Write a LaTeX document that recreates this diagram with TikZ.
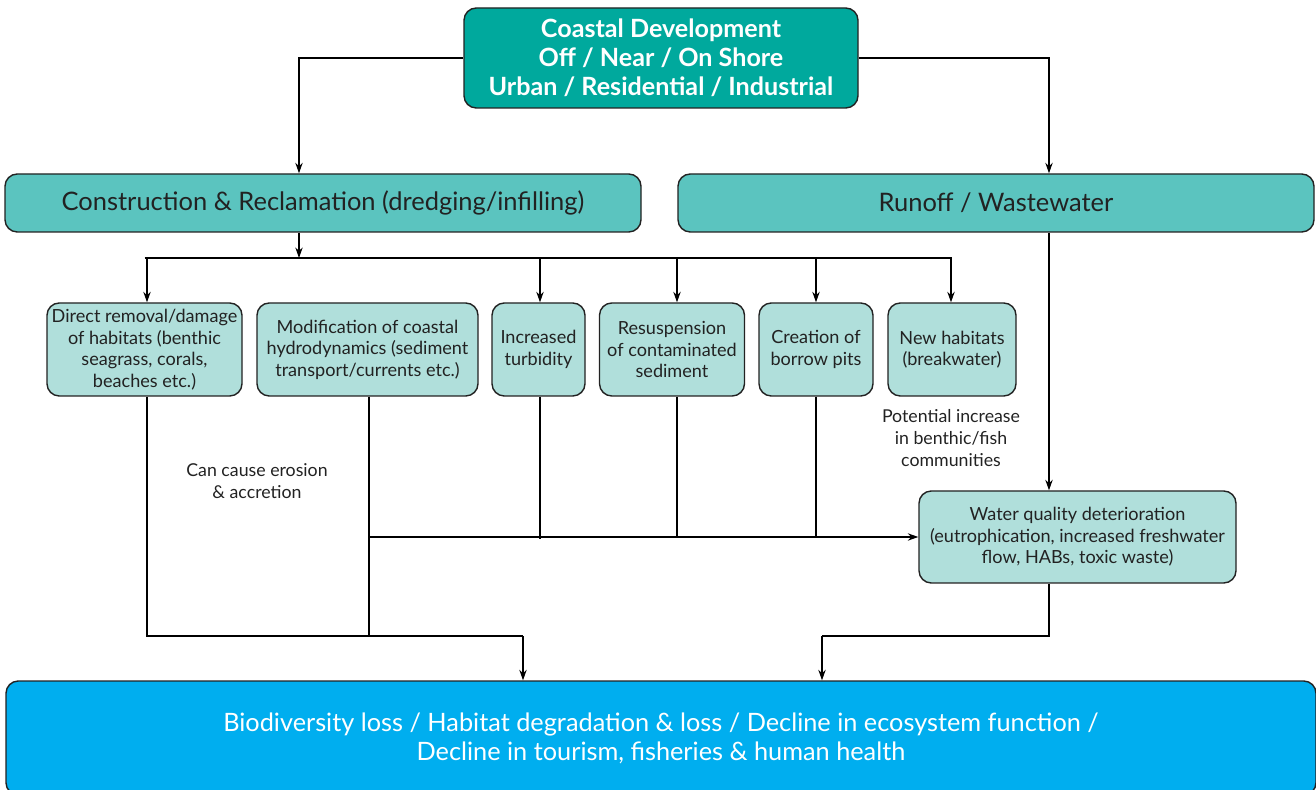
\documentclass[tikz,border=0pt]{standalone}
\usepackage{fontspec}
\setmainfont{Lato}
\usetikzlibrary{arrows.meta}
\definecolor{topteal}{HTML}{00A99D}
\definecolor{midteal}{HTML}{5BC4BF}
\definecolor{lightteal}{HTML}{B0DFDB}
\definecolor{seablue}{HTML}{00AEEF}
\definecolor{boxline}{HTML}{222222}
\begin{document}
\begin{tikzpicture}[x=0.02cm,y=-0.02cm,
    every node/.style={inner sep=0pt,align=center},
    topbox/.style={draw=boxline,line width=0.8pt,rounded corners=7pt,fill=topteal,
      text=white,font=\fontsize{14.3}{16.5}\selectfont\bfseries,minimum height=100*0.02cm},
    midbox/.style={draw=boxline,line width=0.8pt,rounded corners=7pt,fill=midteal,
      text=boxline,font=\fontsize{14.5}{16}\selectfont,minimum height=58*0.02cm,minimum width=636*0.02cm},
    smallbox/.style={draw=boxline,line width=0.8pt,rounded corners=7pt,fill=lightteal,
      text=boxline,font=\fontsize{10.3}{12.3}\selectfont,minimum height=93*0.02cm},
    note/.style={text=boxline,font=\fontsize{10.1}{12.3}\selectfont},
    link/.style={line width=0.65pt,draw=black},
    tip/.style={link,-{Stealth[length=6pt,width=4.2pt]}}]
  \useasboundingbox (0,0) rectangle (1316,790);
  % boxes
  \node[topbox,minimum width=394*0.02cm] (dev) at (661,58)
    {Coastal Development\\Off / Near / On Shore\\Urban / Residential / Industrial};
  \node[midbox] (constr) at (323,203) {Construction \& Reclamation (dredging/infilling)};
  \node[midbox] (runoff) at (996,203) {Runoff / Wastewater};
  \node[smallbox,minimum width=195*0.02cm] (direct) at (144.5,349.5)
    {Direct removal/damage\\of habitats (benthic\\seagrass, corals,\\beaches etc.)};
  \node[smallbox,minimum width=221*0.02cm] (modif) at (367.5,349.5)
    {Modification of coastal\\hydrodynamics (sediment\\transport/currents etc.)};
  \node[smallbox,minimum width=93*0.02cm] (turb) at (538.5,349.5) {Increased\\turbidity};
  \node[smallbox,minimum width=145*0.02cm] (resusp) at (672,349.5)
    {Resuspension\\of contaminated\\sediment};
  \node[smallbox,minimum width=114*0.02cm] (pits) at (816,349.5) {Creation of\\borrow pits};
  \node[smallbox,minimum width=128*0.02cm] (newhab) at (952,349.5) {New habitats\\(breakwater)};
  \node[smallbox,minimum width=317*0.02cm,minimum height=92*0.02cm] (water) at (1077.5,537)
    {Water quality deterioration\\(eutrophication, increased freshwater\\flow, HABs, toxic waste)};
  \node[draw=boxline,line width=0.8pt,rounded corners=7pt,fill=seablue,text=white,
    font=\fontsize{14.4}{16.5}\selectfont,minimum width=1310*0.02cm,minimum height=114*0.02cm]
    (loss) at (661,738)
    {Biodiversity loss / Habitat degradation \& loss / Decline in ecosystem function /\\
     Decline in tourism, fisheries \& human health};
  % notes
  \node[note] (erosion) at (257,481) {Can cause erosion\\\& accretion};
  \node[note] (gain) at (951,438) {Potential increase\\in benthic/fish\\communities};
  % junctions
  \coordinate (split) at (299,258);
  \coordinate (wq) at (1049,0);
  \coordinate (joinl) at (523,636);
  \coordinate (joinr) at (822,636);
  % connectors
  \draw[tip] (dev.west) -| (constr.north -| split);
  \draw[tip] (dev.east) -| (runoff.north -| wq);
  \draw[tip] (constr.south -| split) -- (split);
  \draw[link] (147,258 -| direct.north) -- (newhab.north |- split);
  \draw[tip] (147,258) -- (147,0 |- direct.north);
  \draw[tip] (540,258) -- (540,0 |- turb.north);
  \draw[tip] (677,258) -- (677,0 |- resusp.north);
  \draw[tip] (pits.north |- split) -- (pits.north);
  \draw[tip] (951,258) -- (951,0 |- newhab.north);
  \draw[link] (147,0 |- direct.south) -- (147,0 |- joinl) -- (joinl);
  \draw[link] (369,0 |- modif.south) -- (369,0 |- joinl);
  \draw[tip] (joinl) -- (joinl |- loss.north);
  \draw[tip] (369,0 |- water.west) -- (water.west);
  \draw[link] (540,0 |- turb.south) -- ([yshift=-1pt]540,0 |- water.west);
  \draw[link] (677,0 |- resusp.south) -- (677,0 |- water.west);
  \draw[link] (pits.south) -- (pits.south |- water.west);
  \draw[tip] (runoff.south -| wq) -- (water.north -| wq);
  \draw[link] (water.south -| wq) |- (joinr);
  \draw[tip] (joinr) -- (joinr |- loss.north);
\end{tikzpicture}
\end{document}
